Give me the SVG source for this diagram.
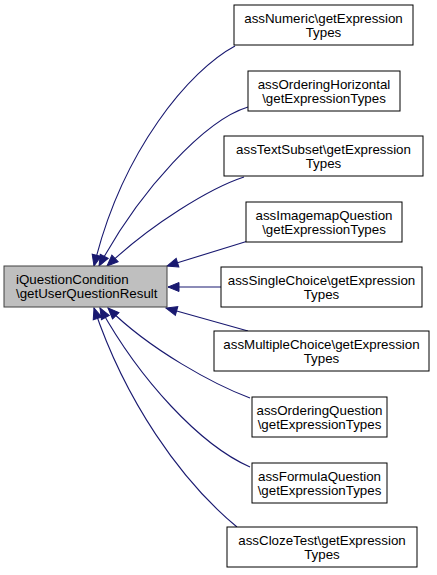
<svg xmlns="http://www.w3.org/2000/svg" width="437" height="575" viewBox="0 0 437 575">
<style>
.node rect{fill:#ffffff;stroke:#000000;stroke-width:1}
#main rect{fill:#bfbfbf;stroke:#404040}
text{font-family:"Liberation Sans",Arial,sans-serif;font-size:13.33px;fill:#000000}
.c{text-anchor:middle}
.edge{fill:none;stroke:#191970;stroke-width:1.1;marker-end:url(#arr)}
</style>
<defs>
<marker id="arr" markerUnits="userSpaceOnUse" markerWidth="14" markerHeight="12" refX="11" refY="0" viewBox="-1 -6 14 12" orient="auto">
<path d="M0,-4.5 L11,0 L0,4.5 z" fill="#191970" stroke="#191970"/>
</marker>
</defs>
<rect width="437" height="575" fill="#ffffff"/>
<g id="edges">
<path class="edge" d="M235,46 C190,70 122,150 94,266"/>
<path class="edge" d="M248,107 C205,120 140,190 99,266"/>
<path class="edge" d="M244,177 C210,188 150,225 107,266"/>
<path class="edge" d="M248,241 L167,266"/>
<path class="edge" d="M221,287 L168,287"/>
<path class="edge" d="M248,331 L166,308"/>
<path class="edge" d="M250,398 C215,385 150,350 108,308"/>
<path class="edge" d="M250,467 C200,445 140,380 100,308"/>
<path class="edge" d="M237,527 C180,480 125,400 94,308"/>
</g>
<g id="main" class="node">
<rect x="4" y="266" width="163" height="41"/>
<text x="16" y="283.5">iQuestionCondition</text>
<text x="16" y="298">\getUserQuestionResult</text>
</g>
<g id="n1" class="node">
<rect x="234" y="5" width="179" height="40"/>
<text class="c" x="323.5" y="22.5">assNumeric\getExpression</text>
<text class="c" x="323.5" y="37">Types</text>
</g>
<g id="n2" class="node">
<rect x="248" y="71" width="152" height="40"/>
<text class="c" x="324" y="88.5">assOrderingHorizontal</text>
<text class="c" x="324" y="103">\getExpressionTypes</text>
</g>
<g id="n3" class="node">
<rect x="224" y="136" width="199" height="40"/>
<text class="c" x="323.5" y="153.5">assTextSubset\getExpression</text>
<text class="c" x="323.5" y="168">Types</text>
</g>
<g id="n4" class="node">
<rect x="246" y="202" width="156" height="40"/>
<text class="c" x="324" y="219.5">assImagemapQuestion</text>
<text class="c" x="324" y="234">\getExpressionTypes</text>
</g>
<g id="n5" class="node">
<rect x="221" y="267" width="201" height="40"/>
<text class="c" x="321.5" y="284.5">assSingleChoice\getExpression</text>
<text class="c" x="321.5" y="299">Types</text>
</g>
<g id="n6" class="node">
<rect x="214" y="331" width="215" height="40"/>
<text class="c" x="321.5" y="348.5">assMultipleChoice\getExpression</text>
<text class="c" x="321.5" y="363">Types</text>
</g>
<g id="n7" class="node">
<rect x="252" y="397" width="135" height="40"/>
<text class="c" x="319.5" y="414.5">assOrderingQuestion</text>
<text class="c" x="319.5" y="429">\getExpressionTypes</text>
</g>
<g id="n8" class="node">
<rect x="252" y="463" width="135" height="40"/>
<text class="c" x="319.5" y="480.5">assFormulaQuestion</text>
<text class="c" x="319.5" y="495">\getExpressionTypes</text>
</g>
<g id="n9" class="node">
<rect x="227" y="527" width="190" height="40"/>
<text class="c" x="322" y="544.5">assClozeTest\getExpression</text>
<text class="c" x="322" y="559">Types</text>
</g>
</svg>
